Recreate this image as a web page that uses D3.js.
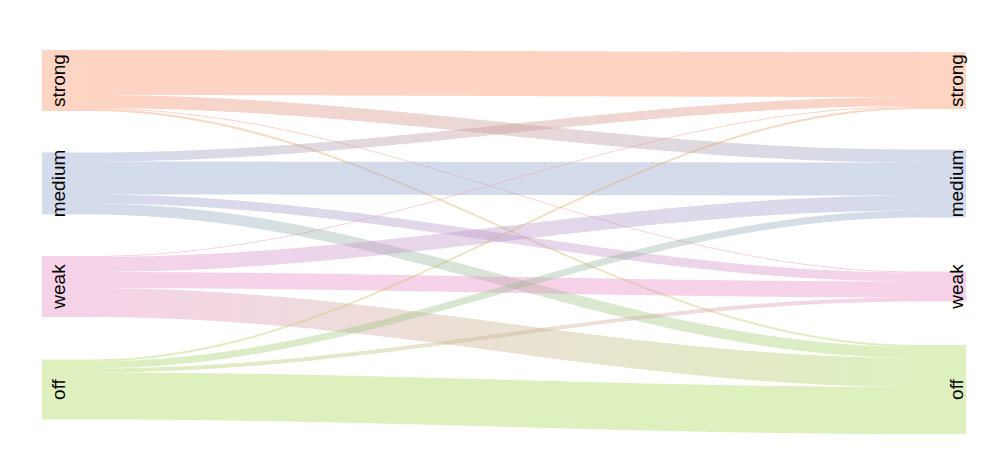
<!DOCTYPE html>
<html>
<head>
<meta charset="utf-8">
<script src="https://cdn.jsdelivr.net/npm/d3@7"></script>
<style>
  body { margin: 0; background: #fff; }
</style>
</head>
<body>
<div id="chart"></div>
<script>
// levels, top to bottom, in both columns
const levels = ["strong", "medium", "weak", "off"];
const levelColors = ["#fc8d62", "#8da0cb", "#e78ac3", "#a6d854"];

// flows: rows = from (left), columns = to (right)
const fromStrong = [45, 13, 1, 2];
const fromMedium = [9, 33, 9, 11];
const fromWeak = [1, 15, 16, 29];
const fromOff = [2, 7, 4, 47];
const flows = [fromStrong, fromMedium, fromWeak, fromOff];

const width = 1003;
const height = 469;
const alpha = 0.38;
const nodeW = 46;
const leftX = 42;
const rightX = 966 - nodeW;

const svg = d3.select("#chart").append("svg")
    .attr("width", width)
    .attr("height", height);

const color = d3.scaleOrdinal().domain(levels).range(levelColors);
const yCenter = d3.scalePoint().domain(levels).range([80.5, 389.5]);
const size = d3.scaleLinear().domain([0, 1]).range([0, 1]);

// node totals
const leftTot = levels.map((l, i) => d3.sum(flows[i]));
const rightTot = levels.map((l, j) => d3.sum(flows, r => r[j]));

const leftTop = levels.map((l, i) => yCenter(l) - size(leftTot[i]) / 2);
const rightTop = levels.map((l, j) => yCenter(l) - size(rightTot[j]) / 2);

// build links with stacked offsets
const links = [];
const rightOff = rightTop.slice();
const leftOff = leftTop.slice();
levels.forEach((s, i) => {
    levels.forEach((t, j) => {
        const h = size(flows[i][j]);
        links.push({ s: i, t: j, v: flows[i][j], y0: leftOff[i], y1: 0, h: h });
        leftOff[i] += h;
    });
});
// target side ordered by source
levels.forEach((t, j) => {
    levels.forEach((s, i) => {
        const l = links.find(d => d.s === i && d.t === j);
        l.y1 = rightOff[j];
        rightOff[j] += l.h;
    });
});

const defs = svg.append("defs");
const x0 = leftX + nodeW;
const x1 = rightX;
const steps = d3.range(0, 1.0001, 1 / 120);

links.forEach((d, k) => {
    const g = defs.append("linearGradient")
        .attr("id", "grad" + k)
        .attr("gradientUnits", "userSpaceOnUse")
        .attr("x1", x0).attr("x2", x1)
        .attr("y1", 0).attr("y2", 0);
    g.append("stop").attr("offset", "0%").attr("stop-color", color(levels[d.s]));
    g.append("stop").attr("offset", "100%").attr("stop-color", color(levels[d.t]));
});

// sinusoidal edge between two heights
function edge(ya, yb) {
    return steps.map(s => [x0 + (x1 - x0) * s, ya + (yb - ya) * (1 - Math.cos(Math.PI * s)) / 2]);
}

const line = d3.line();
function ribbon(d) {
    const top = edge(d.y0, d.y1);
    const bot = edge(d.y0 + d.h, d.y1 + d.h).reverse();
    return line(top.concat(bot)) + "Z";
}

svg.append("g")
    .selectAll("path")
    .data(links)
    .enter().append("path")
    .attr("d", ribbon)
    .attr("fill", (d, k) => "url(#grad" + k + ")")
    .attr("fill-opacity", alpha);

// nodes
const nodes = svg.append("g");
levels.forEach((l, i) => {
    nodes.append("rect")
        .attr("x", leftX).attr("y", leftTop[i])
        .attr("width", nodeW).attr("height", size(leftTot[i]))
        .attr("fill", color(l)).attr("fill-opacity", alpha);
    nodes.append("rect")
        .attr("x", rightX).attr("y", rightTop[i])
        .attr("width", nodeW).attr("height", size(rightTot[i]))
        .attr("fill", color(l)).attr("fill-opacity", alpha);
});

// labels
const labelX = [65, 963];
labelX.forEach(lx => {
    svg.append("g")
        .selectAll("text")
        .data(levels)
        .enter().append("text")
        .attr("transform", d => "translate(" + lx + "," + yCenter(d) + ") rotate(-90)")
        .attr("text-anchor", "middle")
        .style("font-family", "'Liberation Sans', Arial, sans-serif")
        .style("font-size", "19px")
        .attr("fill", "#000")
        .text(d => d);
});
</script>
</body>
</html>
